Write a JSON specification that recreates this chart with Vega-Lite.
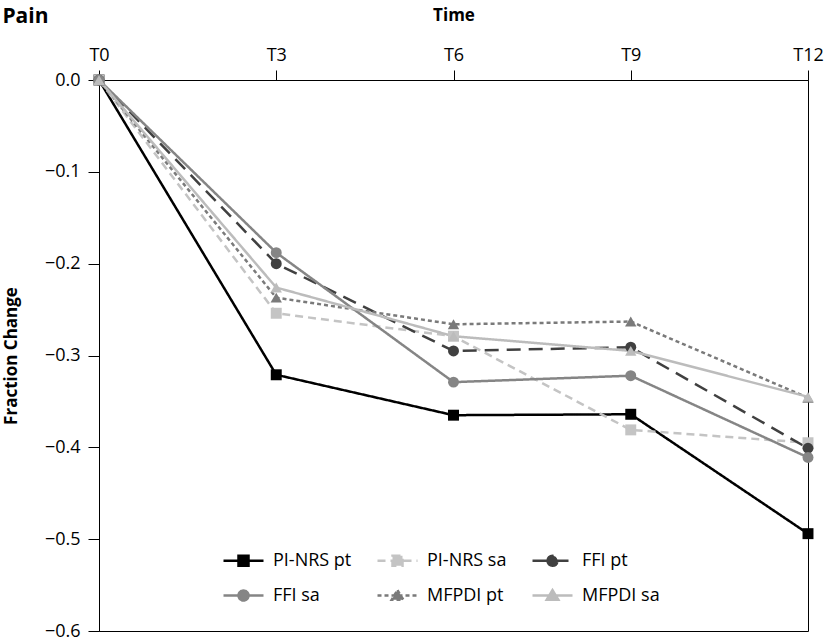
{
  "$schema": "https://vega.github.io/schema/vega-lite/v6.json",
  "autosize": "none",
  "width": 709,
  "height": 551,
  "padding": {"left": 99, "top": 80, "right": 19, "bottom": 12},
  "title": {"text": "Pain", "anchor": "start", "frame": "bounds", "fontSize": 21, "fontWeight": "bold", "font": "Open Sans", "offset": -21, "color": "black"},
  "config": {
    "font": "Open Sans",
    "view": {"stroke": "black", "strokeWidth": 1},
    "axis": {"labelFont": "Open Sans", "titleFont": "Open Sans", "labelColor": "black", "titleColor": "black", "domainColor": "black", "tickColor": "black", "grid": false}
  },
  "data": {"values": [
    {"series": "PI-NRS pt", "group": "PI-NRS", "time": "T0", "value": 0},
    {"series": "PI-NRS pt", "group": "PI-NRS", "time": "T3", "value": -0.321},
    {"series": "PI-NRS pt", "group": "PI-NRS", "time": "T6", "value": -0.365},
    {"series": "PI-NRS pt", "group": "PI-NRS", "time": "T9", "value": -0.364},
    {"series": "PI-NRS pt", "group": "PI-NRS", "time": "T12", "value": -0.494},
    {"series": "PI-NRS sa", "group": "PI-NRS", "time": "T0", "value": 0},
    {"series": "PI-NRS sa", "group": "PI-NRS", "time": "T3", "value": -0.254},
    {"series": "PI-NRS sa", "group": "PI-NRS", "time": "T6", "value": -0.279},
    {"series": "PI-NRS sa", "group": "PI-NRS", "time": "T9", "value": -0.381},
    {"series": "PI-NRS sa", "group": "PI-NRS", "time": "T12", "value": -0.395},
    {"series": "FFI pt", "group": "FFI", "time": "T0", "value": 0},
    {"series": "FFI pt", "group": "FFI", "time": "T3", "value": -0.2},
    {"series": "FFI pt", "group": "FFI", "time": "T6", "value": -0.295},
    {"series": "FFI pt", "group": "FFI", "time": "T9", "value": -0.291},
    {"series": "FFI pt", "group": "FFI", "time": "T12", "value": -0.401},
    {"series": "FFI sa", "group": "FFI", "time": "T0", "value": 0},
    {"series": "FFI sa", "group": "FFI", "time": "T3", "value": -0.188},
    {"series": "FFI sa", "group": "FFI", "time": "T6", "value": -0.329},
    {"series": "FFI sa", "group": "FFI", "time": "T9", "value": -0.322},
    {"series": "FFI sa", "group": "FFI", "time": "T12", "value": -0.411},
    {"series": "MFPDI pt", "group": "MFPDI", "time": "T0", "value": 0},
    {"series": "MFPDI pt", "group": "MFPDI", "time": "T3", "value": -0.237},
    {"series": "MFPDI pt", "group": "MFPDI", "time": "T6", "value": -0.266},
    {"series": "MFPDI pt", "group": "MFPDI", "time": "T9", "value": -0.263},
    {"series": "MFPDI pt", "group": "MFPDI", "time": "T12", "value": -0.346},
    {"series": "MFPDI sa", "group": "MFPDI", "time": "T0", "value": 0},
    {"series": "MFPDI sa", "group": "MFPDI", "time": "T3", "value": -0.226},
    {"series": "MFPDI sa", "group": "MFPDI", "time": "T6", "value": -0.279},
    {"series": "MFPDI sa", "group": "MFPDI", "time": "T9", "value": -0.295},
    {"series": "MFPDI sa", "group": "MFPDI", "time": "T12", "value": -0.345}
  ]},
  "encoding": {
    "x": {"field": "time", "type": "ordinal", "sort": ["T0", "T3", "T6", "T9", "T12"],
      "scale": {"type": "point", "padding": 0},
      "axis": {"orient": "top", "title": "Time", "titleFontSize": 17, "titleFontWeight": "bold", "titlePadding": 22, "labelFontSize": 18, "labelAngle": 0, "tickSize": 10, "labelPadding": 6, "domain": true}},
    "y": {"field": "value", "type": "quantitative",
      "scale": {"domain": [-0.6, 0], "nice": false, "zero": false},
      "axis": {"title": "Fraction Change", "titleFontSize": 17, "titleFontWeight": "bold", "titlePadding": 24, "labelFontSize": 18, "format": ".1f", "values": [0, -0.1, -0.2, -0.3, -0.4, -0.5, -0.6], "tickSize": 11, "labelPadding": 8}},
    "color": {"field": "series", "type": "nominal",
      "scale": {"domain": ["PI-NRS pt", "PI-NRS sa", "FFI pt", "FFI sa", "MFPDI pt", "MFPDI sa"], "range": ["#000000", "#c4c4c4", "#404040", "#858585", "#7a7a7a", "#bcbcbc"]},
      "legend": {
        "title": null, "orient": "none", "legendX": 123, "legendY": 464, "columns": 3, "direction": "horizontal", "padding": 0,
        "labelFontSize": 18, "labelFont": "Open Sans", "labelColor": "black",
        "symbolSize": 900, "columnPadding": 20, "rowPadding": 8, "labelOffset": 18,
        "symbolType": "M-1,0H1.667",
        "encode": {"symbols": {"update": {
          "shape": {"signal": "(datum.value=='PI-NRS pt'||datum.value=='PI-NRS sa') ? 'M-1,0H1.667M0,-0.33H0.667V0.33H0Z' : ((datum.value=='FFI pt'||datum.value=='FFI sa') ? 'M-1,0H1.667M0,0A0.333,0.333 0 1,0 0.667,0A0.333,0.333 0 1,0 0,0Z' : 'M-1,0H1.667M0.333,-0.36L0.72,0.28H-0.053Z')"},
          "fill": {"signal": "scale('color', datum.value)"},
          "stroke": {"signal": "scale('color', datum.value)"},
          "strokeWidth": {"value": 2.5},
          "strokeDash": {"signal": "datum.value=='PI-NRS sa' ? [7,4] : (datum.value=='FFI pt' ? [10,6] : (datum.value=='MFPDI pt' ? [3,3] : [1,0]))"},
          "opacity": {"value": 1}
        }}}
      }}
  },
  "layer": [
    {"mark": {"type": "line", "strokeWidth": 2.5},
      "encoding": {
        "strokeDash": {"field": "series", "type": "nominal",
          "scale": {"domain": ["PI-NRS pt", "PI-NRS sa", "FFI pt", "FFI sa", "MFPDI pt", "MFPDI sa"], "range": [[1, 0], [8, 5], [14, 8], [1, 0], [4, 3], [1, 0]]},
          "legend": null}
      }},
    {"transform": [{"filter": "datum.group == 'PI-NRS'"}],
      "mark": {"type": "point", "filled": true, "opacity": 1, "shape": "square", "size": 120}},
    {"transform": [{"filter": "datum.group == 'FFI'"}],
      "mark": {"type": "point", "filled": true, "opacity": 1, "shape": "circle", "size": 120}},
    {"transform": [{"filter": "datum.group == 'MFPDI'"}],
      "mark": {"type": "point", "filled": true, "opacity": 1, "shape": "triangle-up", "size": 130}}
  ]
}
